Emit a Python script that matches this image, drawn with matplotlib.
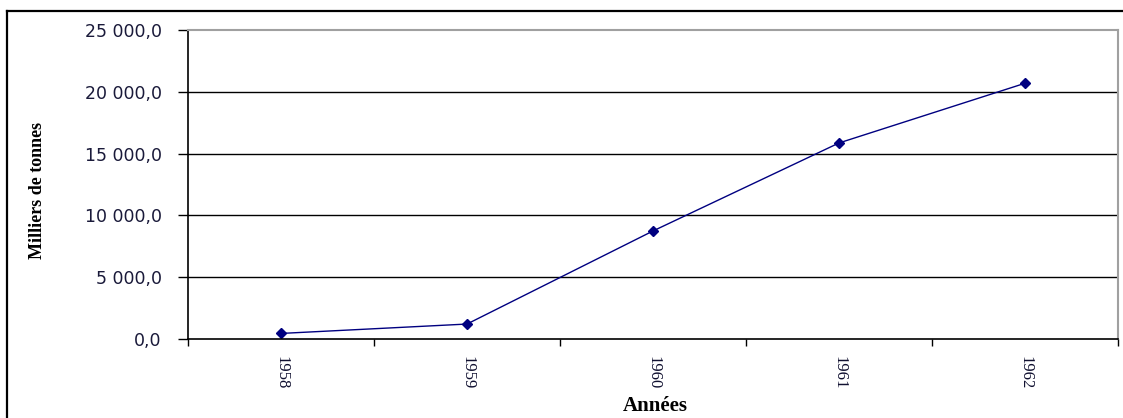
import matplotlib.pyplot as plt
from matplotlib.lines import Line2D
from matplotlib.ticker import FuncFormatter, FixedLocator

# data
years = ['1958', '1959', '1960', '1961', '1962']
tonnes = [450, 1210, 8740, 15860, 20690]
y_ticks = [0, 5000, 10000, 15000, 20000, 25000]

W, H = 1123, 418
fig = plt.figure(figsize=(W / 100, H / 100), dpi=100)

# outer chart frame (left + top visible)
fig.add_artist(Line2D([7 / W, 7 / W], [0, 1 - 11 / H], color='black', lw=1.6))
fig.add_artist(Line2D([7 / W, 1], [1 - 11 / H, 1 - 11 / H], color='black', lw=1.6))

ax = fig.add_axes([188 / W, 1 - 339 / H, (1118 - 188) / W, (339 - 30) / H])

x = list(range(len(years)))
ax.plot(x, tonnes, color='#000080', lw=1, marker='D', markersize=5.5,
        markerfacecolor='#000080', markeredgecolor='#000080')

ax.set_xlim(-0.5, len(years) - 0.5)
ax.set_ylim(0, 25000)

# horizontal gridlines
for v in y_ticks[1:-1]:
    ax.axhline(v, color='black', lw=1, zorder=0)

ax.set_yticks(y_ticks)
ax.yaxis.set_major_formatter(FuncFormatter(
    lambda v, p: f'{v:,.1f}'.replace(',', ' ').replace('.', ',')))
ax.tick_params(axis='y', length=7, width=1, direction='out', pad=12,
               labelsize=12.5, labelcolor='#1a1a3a')
for lab in ax.get_yticklabels():
    lab.set_family('DejaVu Sans')

ax.set_xticks(x)
ax.set_xticklabels(years, rotation=270, family='Liberation Serif',
                   fontsize=12, color='#101030')
ax.tick_params(axis='x', which='major', length=0, pad=12)
ax.xaxis.set_minor_locator(FixedLocator([i - 0.5 for i in range(len(years) + 1)]))
ax.tick_params(axis='x', which='minor', length=5, width=1, direction='out')

for side in ['left', 'bottom']:
    ax.spines[side].set_color('black')
    ax.spines[side].set_linewidth(1.2)
for side in ['top', 'right']:
    ax.spines[side].set_color('#a0a0a0')
    ax.spines[side].set_linewidth(1.5)

fig.text(38 / W, 1 - 190 / H, 'Milliers de tonnes', rotation=90,
         ha='center', va='center', family='Liberation Serif',
         fontweight='bold', fontsize=13)
fig.text(655 / W, 1 - 396 / H, 'Années', ha='center', va='top',
         family='Liberation Serif', fontweight='bold', fontsize=15)

plt.savefig('out.png', dpi=100)
plt.close()
